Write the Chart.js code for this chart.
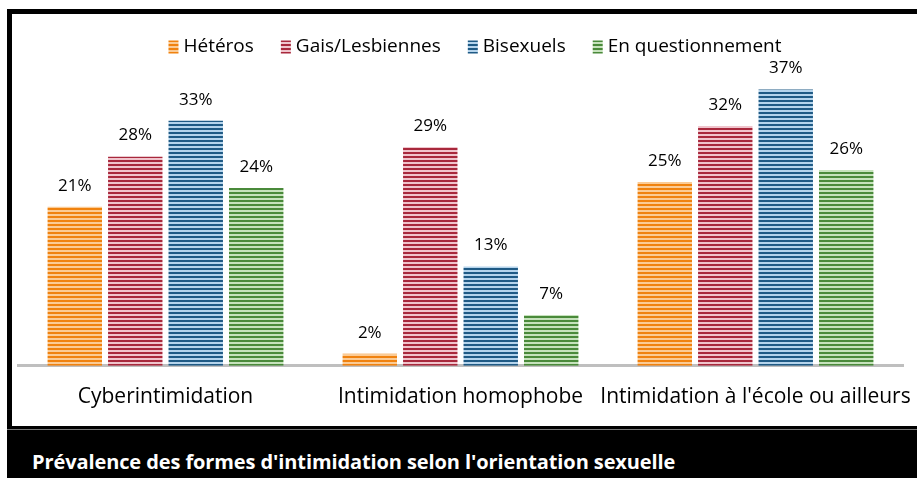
<!DOCTYPE html>
<html>
<head>
<meta charset="utf-8">
<script src="https://cdn.jsdelivr.net/npm/chart.js@4/dist/chart.umd.min.js"></script>
<style>
  html, body { margin: 0; padding: 0; background: #fff; width: 917px; height: 478px; overflow: hidden; }
  #frame { position: absolute; left: 7px; top: 9px; width: 930px; height: 412px; border-top: 5px solid #000; border-left: 5px solid #000; }
  #band { position: absolute; left: 7px; top: 426px; width: 910px; height: 52px; background: #000; }
  #band .line { position: absolute; left: 0; top: 3px; width: 100%; height: 1px; background: #777; }
  #band .title { position: absolute; left: 25px; top: 22px; color: #fff; font: bold 20px "Open Sans", sans-serif; letter-spacing: -0.1px; white-space: nowrap; }
  #wrap { position: absolute; left: 0; top: 0; width: 917px; height: 478px; }
</style>
</head>
<body>
<div id="frame"></div>
<div id="band"><div class="line"></div><div class="title">Prévalence des formes d'intimidation selon l'orientation sexuelle</div></div>
<div id="wrap"><canvas id="myChart" width="917" height="478"></canvas></div>
<script>
var categories = ['Cyberintimidation', 'Intimidation homophobe', "Intimidation à l'école ou ailleurs"];
var heteros = [21.3, 1.6, 24.6];
var gaisLesbiennes = [28.0, 29.3, 32.1];
var bisexuels = [32.8, 13.3, 37.0];
var enQuestionnement = [23.8, 6.8, 26.2];
var seriesNames = ['Hétéros', 'Gais/Lesbiennes', 'Bisexuels', 'En questionnement'];

// dark / light stripe colours
var stripeColors = [
  ['#F0820F', '#FBCB95'],
  ['#A8283C', '#F0C4CC'],
  ['#1F5A85', '#B5D4EC'],
  ['#4A8A3A', '#C6E2BC']
];

function stripes(dark, light) {
  var c = document.createElement('canvas');
  c.width = 4; c.height = 4;
  var g = c.getContext('2d');
  g.fillStyle = light; g.fillRect(0, 0, 4, 4);
  g.fillStyle = dark; g.fillRect(0, 0, 4, 2);
  return g.createPattern(c, 'repeat');
}

var barLabels = {
  id: 'barLabels',
  afterDatasetsDraw: function(chart) {
    var ctx = chart.ctx;
    ctx.save();
    ctx.font = '17px "Open Sans", sans-serif';
    ctx.fillStyle = '#000';
    ctx.textAlign = 'center';
    ctx.textBaseline = 'middle';
    chart.data.datasets.forEach(function(ds, i) {
      chart.getDatasetMeta(i).data.forEach(function(bar, j) {
        ctx.fillText(Math.round(ds.data[j]) + '%', bar.x, bar.y - 21);
      });
    });
    ctx.restore();
  }
};

// legend drawn by hand so the spacing matches the original
var topLegend = {
  id: 'topLegend',
  afterDraw: function(chart) {
    var ctx = chart.ctx;
    var y = 47, box = 10, boxH = 13, gapText = 5, gapItem = 27;
    ctx.save();
    ctx.font = '19px "Open Sans", sans-serif';
    ctx.textBaseline = 'middle';
    var widths = chart.data.datasets.map(function(ds) { return ctx.measureText(ds.label).width; });
    var total = 0;
    widths.forEach(function(w, i) { total += box + gapText + w + (i ? gapItem : 0); });
    var x = 475 - total / 2;
    chart.data.datasets.forEach(function(ds, i) {
      ctx.fillStyle = ds.backgroundColor;
      ctx.fillRect(x, y - boxH / 2, box, boxH);
      x += box + gapText;
      ctx.fillStyle = '#000';
      ctx.fillText(ds.label, x, y);
      x += widths[i] + gapItem;
    });
    ctx.restore();
  }
};

var allData = [heteros, gaisLesbiennes, bisexuels, enQuestionnement];
var ctx = document.getElementById('myChart').getContext('2d');
var myChart = new Chart(ctx, {
  type: 'bar',
  data: {
    labels: categories,
    datasets: allData.map(function(d, i) {
      return {
        label: seriesNames[i],
        data: d,
        backgroundColor: stripes(stripeColors[i][0], stripeColors[i][1]),
        borderWidth: 0
      };
    })
  },
  options: {
    responsive: false,
    animation: false,
    categoryPercentage: 0.82,
    barPercentage: 0.9,
    layout: { padding: { left: 18, right: 14, top: 67, bottom: 49 } },
    plugins: {
      tooltip: { enabled: false },
      legend: { display: false }
    },
    scales: {
      x: {
        grid: { display: false, drawTicks: false },
        border: { color: '#BFBFBF', width: 3 },
        ticks: { font: { family: '"Open Sans", sans-serif', size: 21 }, color: '#000', padding: 19, maxRotation: 0, autoSkip: false },
        afterFit: function(scale) { scale.paddingLeft = 0; scale.paddingRight = 0; }
      },
      y: {
        display: false,
        min: 0,
        max: 40
      }
    }
  },
  plugins: [barLabels, topLegend]
});
</script>
</body>
</html>
